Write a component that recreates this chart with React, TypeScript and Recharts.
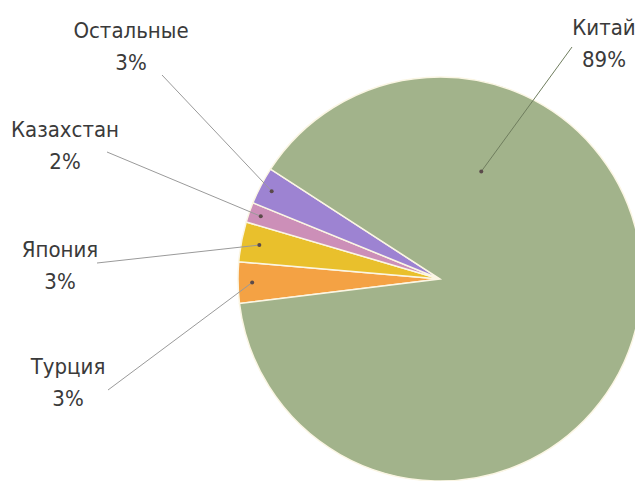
import { PieChart, Pie, Cell } from 'recharts'

const countries = ['Турция', 'Япония', 'Казахстан', 'Остальные', 'Китай']
const shares = [3.3, 3.2, 1.6, 3.0, 88.9]

const data = countries.map((name, i) => ({ name, value: shares[i] }))

const COLORS = ['#f4a244', '#e9c02c', '#cc8fb8', '#9d83d2', '#a2b38b']

// where each label sits and where its leader line starts
const LABELS: Record<string, { tx: number; ty: number; lx: number; ly: number; angle?: number; r: number }> = {
  Турция: { tx: 68, ty: 366, lx: 108, ly: 390, r: 0.93 },
  Япония: { tx: 60, ty: 249, lx: 97, ly: 263, r: 0.91 },
  Казахстан: { tx: 65, ty: 129, lx: 107, ly: 152, r: 0.94 },
  Остальные: { tx: 131, ty: 30, lx: 162, ly: 75, r: 0.94 },
  Китай: { tx: 604, ty: 27, lx: 572, ly: 47, angle: 69, r: 0.57 },
}

const RAD = Math.PI / 180

const renderLabel = (props: any) => {
  const { cx, cy, midAngle, outerRadius, percent, name } = props
  const cfg = LABELS[name]
  if (!cfg) return null
  const a = (cfg.angle ?? midAngle) * RAD
  const dx = cx + outerRadius * cfg.r * Math.cos(a)
  const dy = cy - outerRadius * cfg.r * Math.sin(a)
  return (
    <g key={name}>
      <line x1={cfg.lx} y1={cfg.ly} x2={dx} y2={dy} stroke={name === 'Китай' ? '#6f7d5e' : '#9a9a9a'} strokeWidth={1} />
      <circle cx={dx} cy={dy} r={2} fill="#5a4a4a" />
      <text
        x={cfg.tx}
        y={cfg.ty}
        textAnchor="middle"
        dominantBaseline="central"
        fill="#3a3a3a"
        fontSize={22}
        fontFamily="'DejaVu Sans Condensed', sans-serif"
      >
        <tspan x={cfg.tx} dy={0}>{name}</tspan>
        <tspan x={cfg.tx} dy={32}>{`${Math.round(percent * 100)}%`}</tspan>
      </text>
    </g>
  )
}

export default function App() {
  return (
    <div style={{ position: 'absolute', left: 0, top: 0, width: 635, height: 481, background: '#fff', overflow: 'hidden' }}>
      <PieChart width={635} height={481}>
        <Pie
          data={data}
          dataKey="value"
          nameKey="name"
          cx={435}
          cy={274}
          outerRadius={202}
          startAngle={187}
          endAngle={-173}
          stroke="#fbf6e4"
          strokeWidth={1.5}
          labelLine={false}
          label={renderLabel}
          isAnimationActive={false}
        >
          {data.map((_, i) => (
            <Cell key={`cell-${i}`} fill={COLORS[i]} />
          ))}
        </Pie>
      </PieChart>
    </div>
  )
}
